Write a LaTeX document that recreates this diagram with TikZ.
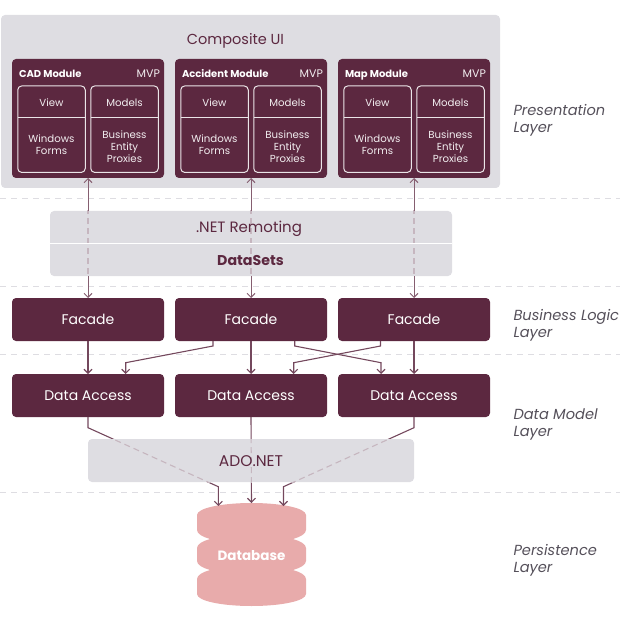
\documentclass[tikz,border=0pt]{standalone}
\usepackage{fontspec}
\setmainfont{Poppins}
\usetikzlibrary{arrows.meta}
\definecolor{wine}{HTML}{5C2840}
\definecolor{panel}{HTML}{DEDDE2}
\definecolor{rose}{HTML}{E8ABAB}
\definecolor{lab}{HTML}{55505A}
\definecolor{ghost}{HTML}{C6B6BF}
\tikzset{
  x=1pt,y=-1pt,
  every node/.style={inner sep=0pt,outer sep=0pt,align=center},
  sized/.style 2 args={minimum width=#1pt,minimum height=#2pt},
  darkbox/.style={fill=wine,rounded corners=4pt,text=white,font=\fontsize{14}{16}\selectfont},
  modulebox/.style={darkbox,sized={152}{119}},
  tier/.style={darkbox,sized={152}{43}},
  inner/.style={draw=white!88!wine,line width=1pt,rounded corners=4pt,sized={67.5}{86.5}},
  small/.style={text=white!92!wine,font=\fontsize{10.2}{12}\selectfont},
  title/.style={text=white,font=\fontsize{10}{11}\selectfont\bfseries,anchor=base west},
  mvp/.style={text=white!92!wine,font=\fontsize{11}{11}\selectfont,anchor=base east},
  graybox/.style={fill=panel,rounded corners=4pt,text=wine,font=\fontsize{15}{16}\selectfont},
  layer/.style={text=lab,font=\fontsize{14.6}{17.3}\selectfont\itshape,align=left,anchor=west},
  sep/.style={draw=panel,line width=1pt,dash pattern=on 6pt off 5pt},
  conn/.style={draw=wine!85!white,line width=1.1pt,-{Straight Barb[length=4pt,width=8pt]}},
  pale/.style={draw=wine!75!white,line width=1pt},
  upconn/.style={pale,{Straight Barb[length=4pt,width=8pt]}-},
  downconn/.style={pale,-{Straight Barb[length=4pt,width=8pt]}},
  ghostline/.style={draw=ghost,line width=1.1pt,dash pattern=on 6pt off 4pt},
}
\begin{document}
\begin{tikzpicture}
\useasboundingbox (0,0) rectangle (620,620);
% separators
\coordinate (s1a) at (0,199); \coordinate (s1b) at (620,199);
\coordinate (s2a) at (0,286); \coordinate (s2b) at (620,286);
\coordinate (s3a) at (0,354); \coordinate (s3b) at (620,354);
\coordinate (s4a) at (0,492); \coordinate (s4b) at (620,492);
\draw[sep] (s1a)--(s1b); \draw[sep] (s2a)--(s2b); \draw[sep] (s3a)--(s3b); \draw[sep] (s4a)--(s4b);
% outer panel
\node[graybox,sized={499}{173}] (ui) at (250.5,101.5) {};
\node[text=wine,font=\fontsize{14.5}{16}\selectfont] (uit) at (235.5,40.5) {Composite UI};
% modules
\foreach \n/\c/\t in {a/88/CAD Module,b/251/Accident Module,c/414/Map Module}{
  \node[modulebox] (m\n) at (\c,118.5) {};
  \node[title] (m\n t) at (\c-69,77.5) {\t};
  \node[mvp] (m\n v) at (\c+72,77.5) {MVP};
  \node[inner] (m\n l) at (\c-36.5,129.2) {};
  \node[inner] (m\n r) at (\c+36.5,129.2) {};
  \draw[draw=white!88!wine,line width=1pt] (m\n l.west |- 0,117.5) -- (m\n l.east |- 0,117.5);
  \draw[draw=white!88!wine,line width=1pt] (m\n r.west |- 0,117.5) -- (m\n r.east |- 0,117.5);
  \node[small] (m\n lv) at (\c-36.5,102.5) {View};
  \node[small] (m\n rv) at (\c+36.5,102.5) {Models};
  \node[small] (m\n lw) at (\c-36.5,144.5) {Windows\\Forms};
  \node[small] (m\n rw) at (\c+36.5,146.5) {Business\\Entity\\Proxies};
}
% tiers
\foreach \n/\c in {a/88,b/251,c/414}{
  \node[tier] (f\n) at (\c,319.5) {Facade};
  \node[tier] (d\n) at (\c,395.5) {Data Access};
}
% remoting panel
\node[graybox,sized={402}{65}] (rem) at (251,243.5) {};
\begin{scope}
  \clip (50,211) rectangle (452,276);
  \draw[ghostline] (ma.south) -- (fa.north);
  \draw[ghostline] (mb.south) -- (fb.north);
  \draw[ghostline] (mc.south) -- (fc.north);
\end{scope}
\draw[white,line width=1pt] (rem.west) -- (rem.east);
\node[text=wine,font=\fontsize{15}{16}\selectfont] (remt) at (249,228.5) {.NET Remoting};
\node[text=wine,font=\fontsize{14.2}{16}\selectfont\bfseries] (dst) at (250.5,260.5) {DataSets};
\draw[upconn] (ma.south) -- (rem.north -| ma.south);
\draw[downconn] (rem.south -| fa.north) -- (fa.north);
\draw[upconn] (mb.south) -- (rem.north -| mb.south);
\draw[downconn] (rem.south -| fb.north) -- (fb.north);
\draw[upconn] (mc.south) -- (rem.north -| mc.south);
\draw[downconn] (rem.south -| fc.north) -- (fc.north);
% database
\node[sized={109}{103}] (store) at (251.5,554.5) {};
\fill[rose] (197,515)
  .. controls (197,508) and (222,503) .. (251.5,503)
  .. controls (281,503) and (306,508) .. (306,515)
  -- (306,530) .. controls (306,534) and (300,537) .. (293,539)
  .. controls (300,541) and (306,544) .. (306,548)
  -- (306,561) .. controls (306,565) and (300,568) .. (293,570)
  .. controls (300,572) and (306,575) .. (306,579)
  -- (306,594) .. controls (306,601) and (281,606) .. (251.5,606)
  .. controls (222,606) and (197,601) .. (197,594)
  -- (197,579) .. controls (197,575) and (203,572) .. (210,570)
  .. controls (203,568) and (197,565) .. (197,561)
  -- (197,548) .. controls (197,544) and (203,541) .. (210,539)
  .. controls (203,537) and (197,534) .. (197,530) -- cycle;
\node[text=white,font=\fontsize{13.5}{16}\selectfont\bfseries] (dbt) at ([yshift=-1pt]store.center) {Database};
% data access to database
\coordinate (l1) at (88,427.7); \coordinate (l2) at (218.3,486.7); \coordinate (l3) at (218.3,506);
\coordinate (r1) at (414,427.7); \coordinate (r2) at (283.5,486.7); \coordinate (r3) at (283.5,506);
\draw[conn] (da.south) -- (l1) -- (l2) -- (l3);
\draw[conn] (db.south) -- (store.north);
\draw[conn] (dc.south) -- (r1) -- (r2) -- (r3);
\node[graybox,sized={326}{43}] (ado) at (251,460.5) {};
\begin{scope}
  \clip (88,439) rectangle (414,482);
  \draw[ghostline] (l1) -- (l2);
  \draw[ghostline] (db.south) -- (store.north);
  \draw[ghostline] (r1) -- (r2);
\end{scope}
\node[text=wine,font=\fontsize{15.5}{16}\selectfont] (adot) at ([yshift=-1pt]ado.center) {ADO.NET};
% facade to data access
\coordinate (x1) at (213,341); \coordinate (x2) at (213,346); \coordinate (x3) at (125.7,362.7); \coordinate (x4) at (125.7,374);
\coordinate (y1) at (294.7,341); \coordinate (y2) at (294.7,346); \coordinate (y3) at (381,362.7); \coordinate (y4) at (381,374);
\coordinate (z1) at (380.5,341); \coordinate (z2) at (380.5,346); \coordinate (z3) at (293.7,362.7); \coordinate (z4) at (293.7,374);
\draw[conn] (fa.south) -- (da.north);
\draw[conn] (fb.south) -- (db.north);
\draw[conn] (fc.south) -- (dc.north);
\draw[conn] (x1) -- (x2) -- (x3) -- (x4);
\draw[conn] (y1) -- (y2) -- (y3) -- (y4);
\draw[conn] (z1) -- (z2) -- (z3) -- (z4);
% layer labels
\node[layer] (lp) at (513.5,120) {Presentation\\Layer};
\node[layer] (lb) at (513.5,325) {Business Logic\\Layer};
\node[layer] (ld) at (513.5,424.5) {Data Model\\Layer};
\node[layer] (lq) at (513.5,560) {Persistence\\Layer};
\end{tikzpicture}
\end{document}
